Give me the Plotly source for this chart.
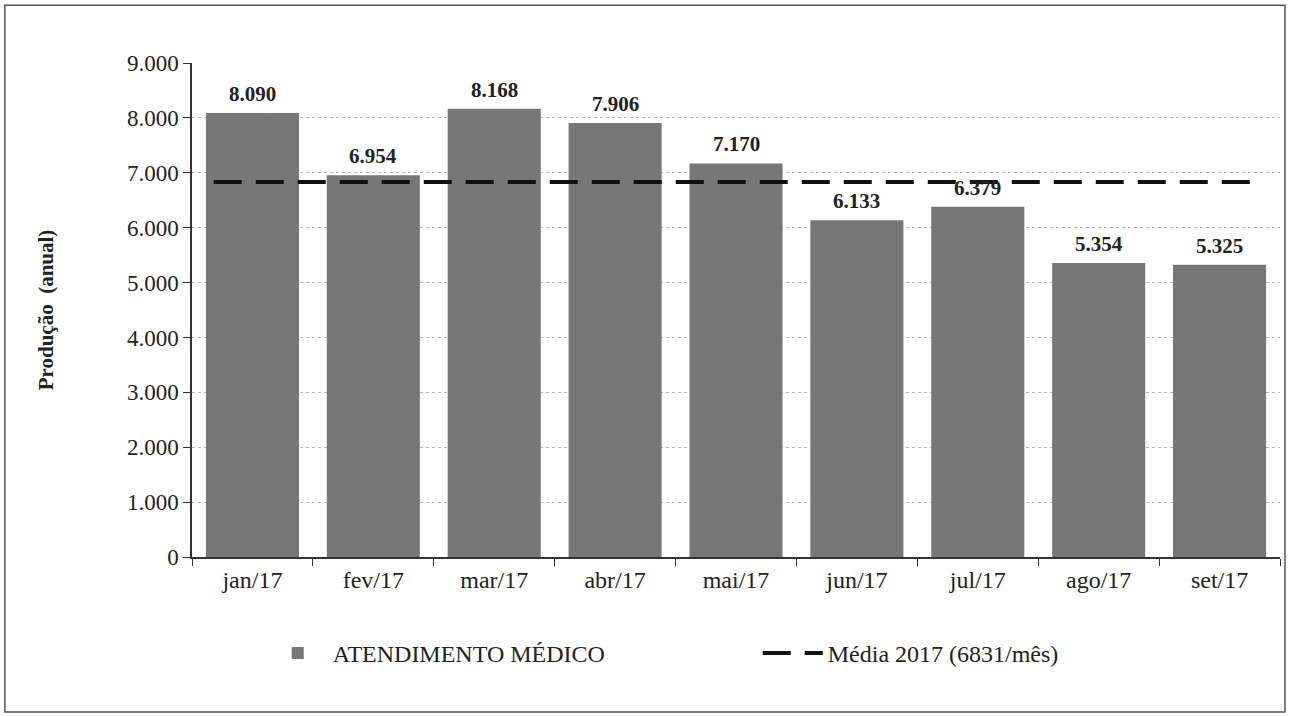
import plotly.graph_objects as go

categories = ["jan/17", "fev/17", "mar/17", "abr/17", "mai/17", "jun/17", "jul/17", "ago/17", "set/17"]
values = [8090, 6954, 8168, 7906, 7170, 6133, 6379, 5354, 5325]
mean_2017 = 6831
bar_name = "ATENDIMENTO MÉDICO"
line_name = "Média 2017 (6831/mês)"

def fmt(v):
    return f"{v:,}".replace(",", ".")

SERIF = "Liberation Serif, Times New Roman, serif"

fig = go.Figure()
fig.add_trace(go.Bar(
    x=categories, y=values, name=bar_name,
    marker=dict(color="#777777", line=dict(width=0)),
))
for c, v in zip(categories, values):
    fig.add_annotation(x=c, y=v, text=f"<b>{fmt(v)}</b>", showarrow=False,
                       yanchor="bottom", yshift=5,
                       font=dict(family=SERIF, size=21, color="#222"))
fig.add_trace(go.Scatter(
    x=[None], y=[None], mode="lines", name=line_name,
    line=dict(color="#111", width=4, dash="28px,14px"),
))
fig.add_shape(type="line", xref="x domain", yref="y", x0=0.02, x1=0.985,
              y0=mean_2017, y1=mean_2017,
              line=dict(color="#111", width=4, dash="28px,14px"))
# outer border
fig.add_shape(type="rect", xref="paper", yref="paper",
              x0=-0.172, x1=1.0046, y0=-0.314, y1=1.117,
              line=dict(color="#555", width=1.5), fillcolor="rgba(0,0,0,0)", layer="below")

fig.update_layout(
    width=1290, height=716,
    margin=dict(l=192, r=10, t=63, b=159),
    paper_bgcolor="white", plot_bgcolor="white",
    separators=",.",
    bargap=0.23,
    showlegend=True,
    legend=dict(orientation="h", x=0.065, xanchor="left", y=-0.195, yanchor="middle",
                font=dict(family=SERIF, size=24, color="#222"),
                entrywidth=420, entrywidthmode="pixels", itemwidth=60),
    font=dict(family=SERIF, color="#222"),
)
fig.update_xaxes(
    type="category", tickson="boundaries", ticks="outside", ticklen=7,
    tickcolor="#333", showline=True, linecolor="#333", linewidth=1.5,
    tickfont=dict(family=SERIF, size=24, color="#222"),
    showgrid=False, automargin=False,
)
fig.update_yaxes(
    range=[0, 9000], dtick=1000, tickformat=",d",
    ticks="outside", ticklen=7, tickcolor="#333",
    showline=True, linecolor="#333", linewidth=1.5,
    showgrid=True, gridcolor="#bbbbbb", griddash="dot", gridwidth=1,
    tickfont=dict(family=SERIF, size=23, color="#222"),
    title=dict(text="<b>Produção  (anual)</b>", font=dict(family=SERIF, size=21, color="#222"),
               standoff=68),
    zeroline=False, automargin=False,
)
fig.write_html("out.html", config={"displayModeBar": False})
with open("out.html", encoding="utf-8") as f:
    html = f.read()
html = html.replace("<head>", "<head><style>html,body{margin:0;padding:0;overflow:hidden;}</style>", 1)
with open("out.html", "w", encoding="utf-8") as f:
    f.write(html)
